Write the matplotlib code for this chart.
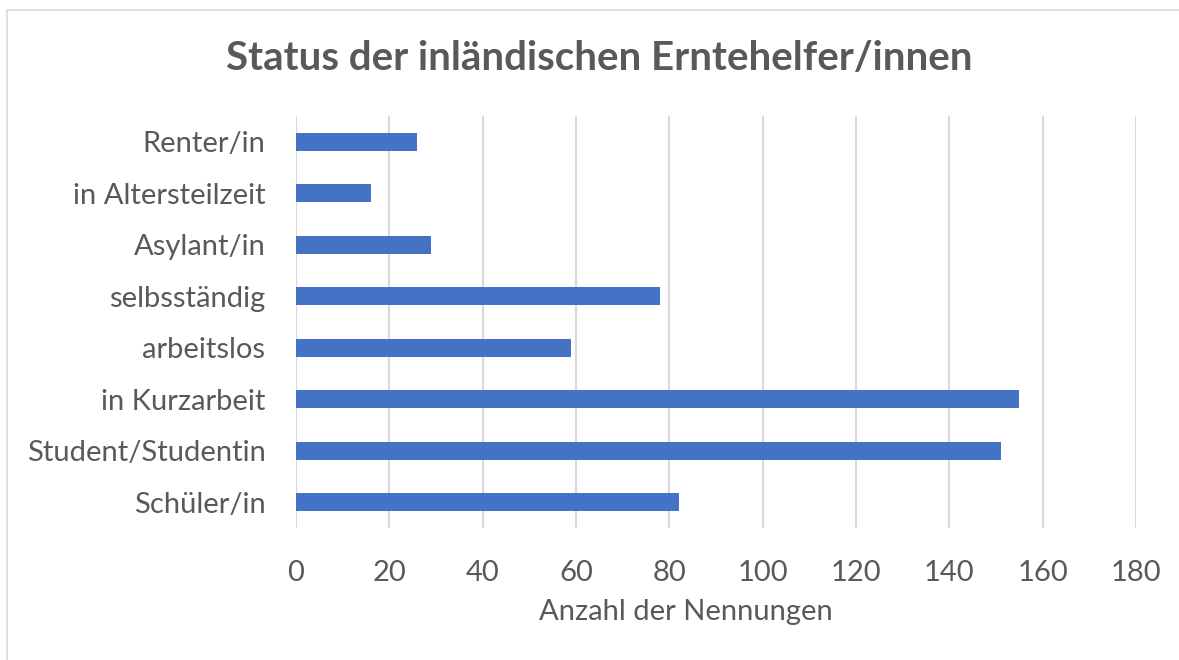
import matplotlib
matplotlib.use("Agg")
import matplotlib.pyplot as plt
from matplotlib.lines import Line2D

# Status der inländischen Erntehelfer/innen
kategorien = ["Schüler/in", "Student/Studentin", "in Kurzarbeit", "arbeitslos",
              "selbsständig", "Asylant/in", "in Altersteilzeit", "Renter/in"]
nennungen = [82, 151, 155, 59, 78, 29, 16, 26]
x_ticks = [0, 20, 40, 60, 80, 100, 120, 140, 160, 180]

text_col = "#595959"
plt.rcParams['font.family'] = ['Lato', 'DejaVu Sans']

fig = plt.figure(figsize=(11.79, 6.6), dpi=100)
ax = fig.add_axes([296/1179, 1 - 528/660, (1136-296)/1179, (528-116)/660])

ax.barh(range(len(kategorien)), nennungen, height=0.35, color="#4472C4", zorder=3)
ax.set_ylim(-0.5, len(kategorien) - 0.5)
ax.set_xlim(0, 180)
ax.set_xticks(x_ticks)
ax.set_yticks(range(len(kategorien)))
ax.set_yticklabels(kategorien)

ax.grid(axis="x", color="#D9D9D9", linewidth=1.5, zorder=0)
for s in ax.spines.values():
    s.set_visible(False)
ax.tick_params(length=0, labelsize=21, colors=text_col)
ax.tick_params(axis="y", pad=22)
ax.tick_params(axis="x", pad=23)

ax.set_xlabel("Anzahl der Nennungen", fontsize=21, color=text_col, labelpad=11)
ax.xaxis.set_label_coords(0.464, -0.165)
ax.xaxis.label.set_va("center")
ax.xaxis.set_label_coords(0.464, 1 - (612 - 116) / (528 - 116))
fig.text(599/1179, 1 - 58/660, "Status der inländischen Erntehelfer/innen",
         ha="center", va="center", fontsize=29, fontweight="bold", color=text_col)

# Rahmen oben und links
fig.add_artist(Line2D([7/1179, 1], [1 - 10/660, 1 - 10/660], color="#D9D9D9", lw=1.2))
fig.add_artist(Line2D([7/1179, 7/1179], [0, 1 - 10/660], color="#D9D9D9", lw=1.2))

fig.savefig("out.png", dpi=100, facecolor="white")
